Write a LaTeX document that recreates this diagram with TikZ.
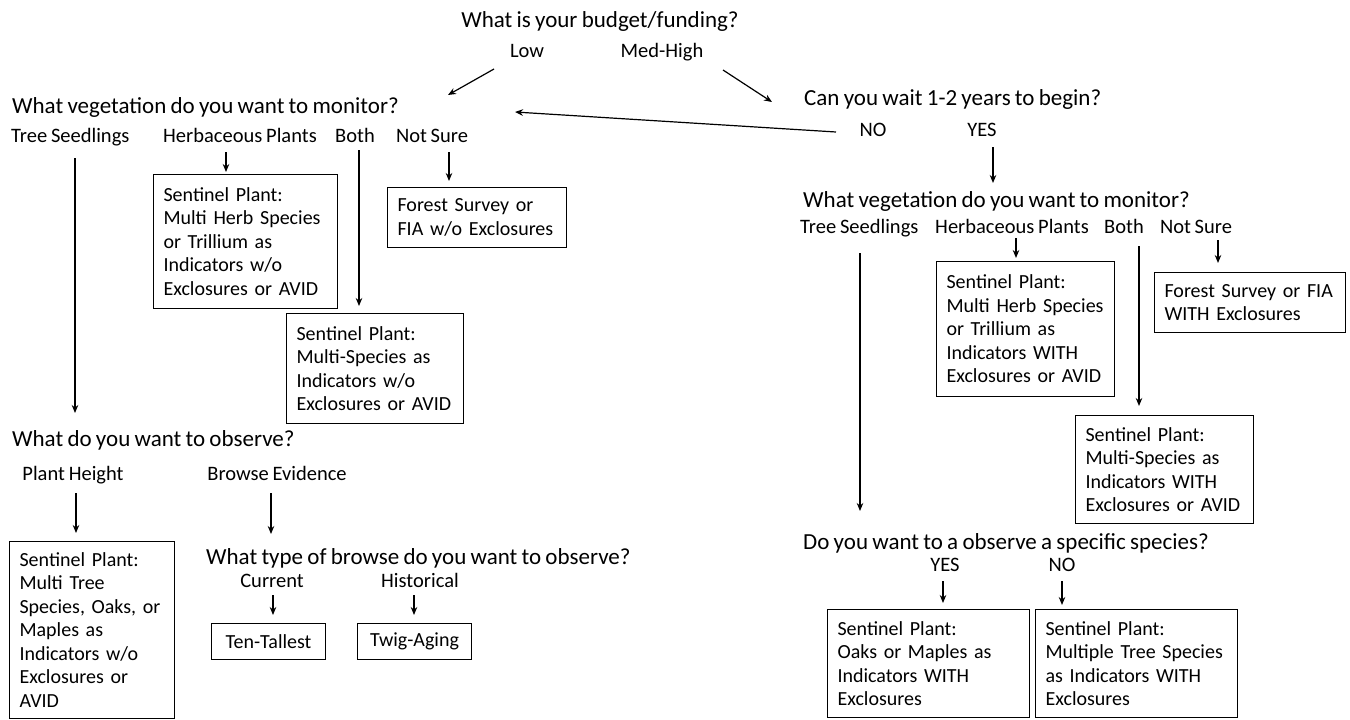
\documentclass[tikz,border=0pt]{standalone}
\usepackage{fontspec}
\setmainfont{Carlito}[WordSpace=0.82]
\usetikzlibrary{arrows.meta,calc,positioning}

\begin{document}
\begin{tikzpicture}[x=1pt,y=-1pt,
    quest/.style={font=\fontsize{23}{27}\selectfont, inner sep=0pt, text height=16pt, text depth=5pt},
    opt/.style={font=\fontsize{20.5}{24}\selectfont, inner sep=0pt, text height=14pt, text depth=4pt},
    leaf/.style n args={2}{draw, line width=1.1pt, font=\fontsize{20}{23.5}\selectfont,
        align=left, inner xsep=10pt, inner ysep=0pt, text width=#1, minimum height=#2, anchor=north west},
    arr/.style={-{Stealth[length=8pt,width=6.5pt]}, line width=1.2pt},
]
    \useasboundingbox (0,0) rectangle (1350,720);

    % Budget question
    \node[quest] (budget) at (600,22) {What is your budget/funding?};
    \node[opt] (low) at (527,52) {Low};
    \node[opt] (medhigh) at (662,52) {Med-High};

    % Low budget branch
    \node[quest, anchor=west] (vegL) at (12,108) {What vegetation do you want to monitor?};
    \node[opt, anchor=west] (treeL) at (11,137) {Tree Seedlings};
    \node[opt] (herbL) at (240,137) {Herbaceous Plants};
    \node[opt] (bothL) at (355,137) {Both};
    \node[opt] (notL) at (432,137) {Not Sure};

    \node[leaf={164pt}{134pt}] (boxHerbL) at (153,174)
        {Sentinel Plant:\\Multi Herb Species\\or Trillium as\\Indicators w/o\\Exclosures or AVID};
    \node[leaf={159pt}{60pt}] (boxForestL) at (387,187)
        {Forest Survey or\\FIA w/o Exclosures};
    \node[leaf={157pt}{110pt}] (boxMultiL) at (286,313)
        {Sentinel Plant:\\Multi-Species as\\Indicators w/o\\Exclosures or AVID};

    % Tree seedlings (low)
    \node[quest, anchor=west] (observe) at (12,441) {What do you want to observe?};
    \node[opt] (height) at (73,475) {Plant Height};
    \node[opt] (browse) at (277,475) {Browse Evidence};
    \node[leaf={145pt}{177pt}] (boxTreeL) at (9,541)
        {Sentinel Plant:\\Multi Tree\\Species, Oaks, or\\Maples as\\Indicators w/o\\Exclosures or\\AVID};
    \node[quest, anchor=west] (browseQ) at (206,559) {What type of browse do you want to observe?};
    \node[opt] (current) at (272,582) {Current};
    \node[opt] (historical) at (420,582) {Historical};
    \node[leaf={94pt}{36pt}, align=center] (boxTen) at (211,623) {Ten-Tallest};
    \node[leaf={94pt}{36pt}, align=center] (boxTwig) at (357,623) {Twig-Aging};

    % Med-High budget branch
    \node[quest, anchor=west] (canwait) at (804,100) {Can you wait 1-2 years to begin?};
    \node[opt] (no) at (873,131) {NO};
    \node[opt] (yes) at (982,131) {YES};

    \node[quest, anchor=west] (vegR) at (803,202) {What vegetation do you want to monitor?};
    \node[opt, anchor=west] (treeR) at (800,228) {Tree Seedlings};
    \node[opt] (herbR) at (1012,228) {Herbaceous Plants};
    \node[opt] (bothR) at (1124,228) {Both};
    \node[opt] (notR) at (1196,228) {Not Sure};

    \node[leaf={158pt}{135pt}] (boxHerbR) at (936,261)
        {Sentinel Plant:\\Multi Herb Species\\or Trillium as\\Indicators WITH\\Exclosures or AVID};
    \node[leaf={171pt}{60pt}] (boxForestR) at (1154,272)
        {Forest Survey or FIA\\WITH Exclosures};
    \node[leaf={158pt}{108pt}] (boxMultiR) at (1075,415)
        {Sentinel Plant:\\Multi-Species as\\Indicators WITH\\Exclosures or AVID};

    \node[quest, anchor=west] (species) at (803,544) {Do you want to a observe a specific species?};
    \node[opt] (yesR) at (945,566) {YES};
    \node[opt] (noR) at (1062,566) {NO};
    \node[leaf={182pt}{108pt}] (boxYes) at (827,609)
        {Sentinel Plant:\\Oaks or Maples as\\Indicators WITH\\Exclosures};
    \node[leaf={182pt}{108pt}] (boxNo) at (1035,609)
        {Sentinel Plant:\\Multiple Tree Species\\as Indicators WITH\\Exclosures};

    % Arrows, top
    \draw[arr] ($(low)+(-33,17)$) -- ($(vegL.west)+(436,-13)$);
    \draw[arr] ($(medhigh)+(61,18)$) -- ($(canwait.west)+(-32,2)$);
    \draw[arr] ($(no)+(-37,1)$) -- ($(vegL.west)+(503,4)$);
    \draw[arr] ($(yes)+(11,16)$) -- ($(vegR.west)+(190,-19)$);

    % Arrows, left
    \draw[arr] ($(herbL)+(-14,15)$) -- ($(boxHerbL.north west)+(73,-2)$);
    \draw[arr] ($(bothL)+(4,13)$) -- ($(boxMultiL.north west)+(73,-7)$);
    \draw[arr] ($(notL)+(17,15)$) -- ($(boxForestL.north west)+(62,-6)$);
    \draw[arr] ($(treeL.west)+(64,21)$) -- ($(observe.west)+(63,-28)$);
    \draw[arr] ($(height)+(3,18)$) -- ($(boxTreeL.north west)+(67,-8)$);
    \draw[arr] ($(browse)+(-6,18)$) -- ($(browseQ.west)+(65,-25)$);
    \draw[arr] ($(current)+(1,13)$) -- ($(boxTen.north west)+(62,-8)$);
    \draw[arr] ($(historical)+(-6,13)$) -- ($(boxTwig.north west)+(57,-8)$);

    % Arrows, right
    \draw[arr] ($(herbR)+(4,10)$) -- ($(boxHerbR.north west)+(80,-3)$);
    \draw[arr] ($(bothR)+(15,18)$) -- ($(boxMultiR.north west)+(64,-9)$);
    \draw[arr] ($(notR)+(22,12)$) -- ($(boxForestR.north west)+(64,-9)$);
    \draw[arr] ($(treeR.west)+(60,25)$) -- ($(species.west)+(57,-33)$);
    \draw[arr] ($(yesR)+(-2,15)$) -- ($(boxYes.north west)+(116,-6)$);
    \draw[arr] ($(noR)+(0,15)$) -- ($(boxNo.north west)+(27,-4)$);
\end{tikzpicture}
\end{document}
